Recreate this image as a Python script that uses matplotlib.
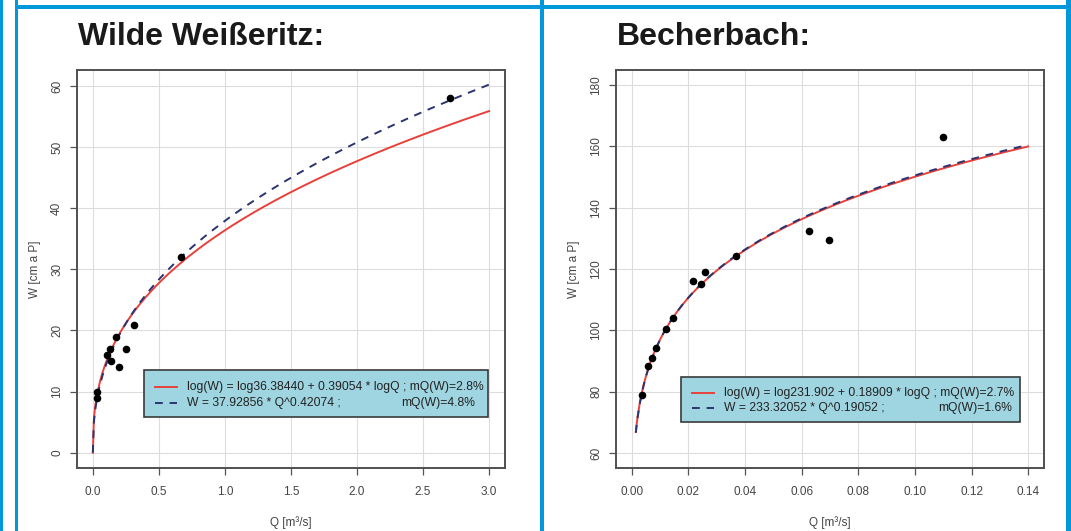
import numpy as np
import matplotlib
matplotlib.use('Agg')
import matplotlib.pyplot as plt
from matplotlib.patches import Rectangle

plt.rcParams['font.family'] = ['Liberation Sans', 'DejaVu Sans']

# Wilde Weisseritz: measured points and fitted coefficients (from legend)
ww_q = [0.03, 0.03, 0.11, 0.13, 0.135, 0.175, 0.20, 0.25, 0.31, 0.665, 2.70]
ww_w = [10.0, 9.0, 16.0, 17.0, 15.0, 19.0, 14.0, 17.0, 20.9, 32.0, 58.0]
ww_log = (36.38440, 0.39054)
ww_pow = (37.92856, 0.42074)
ww_range = (0.0, 3.0)
ww_labels = ['log(W) = log36.38440 + 0.39054 * logQ ; mQ(W)=2.8%',
             'W = 37.92856 * Q^0.42074 ;', 'mQ(W)=4.8%']

# Becherbach
bb_q = [0.0035, 0.0058, 0.0071, 0.0085, 0.0119, 0.0145, 0.0215, 0.0246,
        0.026, 0.0367, 0.0625, 0.0695, 0.110]
bb_w = [79.1, 88.4, 91.1, 94.2, 100.4, 104.2, 116.2, 115.1, 119.1, 124.1,
        132.3, 129.3, 163.0]
bb_log = (231.902, 0.18909)
bb_pow = (233.32052, 0.19052)
bb_range = (0.0014, 0.14)
bb_labels = ['log(W) = log231.902 + 0.18909 * logQ ; mQ(W)=2.7%',
             'W = 233.32052 * Q^0.19052 ;', 'mQ(W)=1.6%']

W, H = 1071, 531
fig = plt.figure(figsize=(W / 100, H / 100), dpi=100)

BLUE = '#0098da'
RED = '#e8403a'
NAVY = '#2a3470'
FRAME = '#505050'
TICK = '#555555'


def fx(px):
    return px / W


def fy(py):
    return 1 - py / H


# blue frame
for x0, x1 in [(0, 3), (15, 18), (540, 544), (1066, 1071)]:
    fig.add_artist(Rectangle((fx(x0), 0), fx(x1 - x0), 1, color=BLUE,
                             transform=fig.transFigure, lw=0))
fig.add_artist(Rectangle((fx(15), fy(9)), fx(1056), 4 / H, color=BLUE,
                         transform=fig.transFigure, lw=0))


def panel(left, title, q, w, logc, powc, qrange, xt, xfmt, yt, xlim, ylim,
          labels, leg):
    ax = fig.add_axes([fx(left), fy(468), fx(428), 398 / H])
    qq = np.linspace(qrange[0], qrange[1], 400)
    ax.plot(qq, logc[0] * qq ** logc[1], color=RED, lw=1.4, zorder=3)
    ax.plot(qq, powc[0] * qq ** powc[1], color=NAVY, lw=1.4,
            dashes=(4, 3.5), zorder=4)
    ax.scatter(q, w, s=20, color='black', zorder=5)
    ax.set_xlim(xlim)
    ax.set_ylim(ylim)
    ax.set_xticks(xt)
    ax.set_xticklabels([xfmt.format(v) for v in xt])
    ax.set_yticks(yt)
    ax.set_yticklabels([str(v) for v in yt], rotation=90, va='center')
    ax.grid(True, color='#dddddd', lw=0.8)
    ax.set_axisbelow(True)
    for s in ax.spines.values():
        s.set_color(FRAME)
        s.set_linewidth(1.4)
    ax.tick_params(colors=TICK, labelsize=8.5, length=5, width=0.9,
                   labelcolor='#444444')
    ax.tick_params(axis='x', pad=8)
    ax.tick_params(axis='y', pad=5)
    ax.set_xlabel('Q [m³/s]', fontsize=8.5, color='#444444', labelpad=13)
    ax.set_ylabel('W [cm a P]', fontsize=8.5, color='#444444', labelpad=7)
    fig.text(fx(left + 1), fy(45), title, fontsize=23, fontweight='bold',
             color='#1a1a1a')

    bx0, bx1, by0, by1, sx0, sx1, ly1, ly2, tx, tr1, tr2 = leg
    ax.add_patch(Rectangle((bx0, by0), bx1 - bx0, by1 - by0,
                           transform=ax.transAxes, facecolor='#9fd5e1',
                           edgecolor='#3a3a3a', lw=1.2, zorder=6))
    ax.plot([sx0, sx1], [ly1, ly1], color=RED, lw=1.4,
            transform=ax.transAxes, zorder=7)
    ax.plot([sx0, sx1], [ly2, ly2], color=NAVY, lw=1.4, dashes=(4, 3.5),
            transform=ax.transAxes, zorder=7)
    ax.text(tx, ly1, labels[0], transform=ax.transAxes, fontsize=8.7,
            va='center', ha='left', color='#222222', zorder=8)
    ax.text(tx, ly2, labels[1], transform=ax.transAxes, fontsize=8.7,
            va='center', ha='left', color='#222222', zorder=8)
    ax.text(tr2, ly2, labels[2], transform=ax.transAxes, fontsize=8.7,
            va='center', ha='right', color='#222222', zorder=8)
    return ax


panel(77, 'Wilde Weißeritz:', ww_q, ww_w, ww_log, ww_pow, ww_range,
      [0.0, 0.5, 1.0, 1.5, 2.0, 2.5, 3.0], '{:.1f}',
      [0, 10, 20, 30, 40, 50, 60], (-0.12, 3.12), (-2.5, 62.6), ww_labels,
      (0.1562, 0.9604, 0.128, 0.246, 0.182, 0.233, 0.2035, 0.164, 0.256,
       0.944, 0.930))

panel(616, 'Becherbach:', bb_q, bb_w, bb_log, bb_pow, bb_range,
      [0.0, 0.02, 0.04, 0.06, 0.08, 0.10, 0.12, 0.14], '{:.2f}',
      [60, 80, 100, 120, 140, 160, 180], (-0.0056, 0.1456), (55.2, 184.8),
      bb_labels,
      (0.1526, 0.9437, 0.1156, 0.2286, 0.178, 0.230, 0.188, 0.151, 0.2535,
       0.926, 0.926))

fig.savefig('out.png', dpi=100)
